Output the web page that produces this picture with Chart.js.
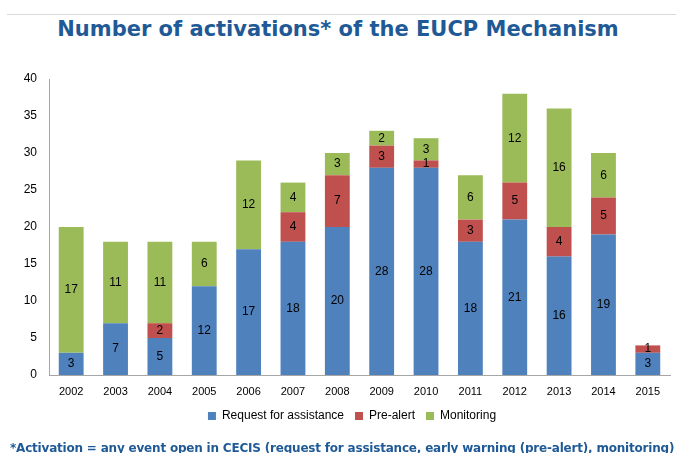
<!DOCTYPE html>
<html>
<head>
<meta charset="utf-8">
<script src="https://cdn.jsdelivr.net/npm/chart.js@4.4.1/dist/chart.umd.min.js"></script>
<style>
  html, body { margin: 0; padding: 0; background: #fff; }
  body { width: 676px; height: 453px; position: relative; overflow: hidden; }
  #rule { position: absolute; left: 7px; right: 0; top: 14px; border-top: 1px solid #d9d9d9; }
  #title {
    position: absolute; left: 0; width: 676px; top: 17px; text-align: center;
    font-family: 'DejaVu Sans', Verdana, sans-serif; font-weight: bold; font-size: 21px;
    color: #1f5a96;
  }
  #note {
    position: absolute; left: 10px; top: 441px; white-space: nowrap;
    font-family: 'DejaVu Sans', Verdana, sans-serif; font-weight: bold; font-size: 12px;
    letter-spacing: -0.2px; color: #1f5a96;
  }
  #wrap { position: absolute; left: 0; top: 0; width: 676px; height: 453px; }
</style>
</head>
<body>
<div id="rule"></div>
<div id="title">Number of activations* of the EUCP Mechanism</div>
<div id="wrap"><canvas id="chart"></canvas></div>
<div id="note">*Activation = any event open in CECIS (request for assistance, early warning (pre-alert), monitoring)</div>
<script>
const years = ['2002', '2003', '2004', '2005', '2006', '2007', '2008', '2009', '2010', '2011', '2012', '2013', '2014', '2015'];
const requestForAssistance = [3, 7, 5, 12, 17, 18, 20, 28, 28, 18, 21, 16, 19, 3];
const preAlert = [0, 0, 2, 0, 0, 4, 7, 3, 1, 3, 5, 4, 5, 1];
const monitoring = [17, 11, 11, 6, 12, 4, 3, 2, 3, 6, 12, 16, 6, 0];

const FONT = { family: "'Liberation Sans', Arial, sans-serif", size: 12 };

// draws the value in the middle of each segment
const segmentLabels = {
  id: 'segmentLabels',
  afterDatasetsDraw(chart) {
    const ctx = chart.ctx;
    ctx.save();
    ctx.font = '12px ' + FONT.family;
    ctx.fillStyle = '#000';
    ctx.textAlign = 'center';
    ctx.textBaseline = 'middle';
    chart.data.datasets.forEach((ds, i) => {
      const meta = chart.getDatasetMeta(i);
      meta.data.forEach((bar, j) => {
        const v = ds.data[j];
        if (!v) return;
        ctx.fillText(String(v), bar.x, (bar.y + bar.base) / 2);
      });
    });
    ctx.restore();
  }
};

// legend in the original sits a bit right of the page centre
const legendShift = {
  id: 'legendShift',
  afterLayout(chart) {
    chart.legend.left += 17;
    chart.legend.right += 17;
  }
};

new Chart(document.getElementById('chart').getContext('2d'), {
  type: 'bar',
  data: {
    labels: years,
    datasets: [
      { label: 'Request for assistance', data: requestForAssistance, backgroundColor: '#4f81bd' },
      { label: 'Pre-alert', data: preAlert, backgroundColor: '#c0504d' },
      { label: 'Monitoring', data: monitoring, backgroundColor: '#9bbb59' },
    ],
  },
  options: {
    responsive: true,
    maintainAspectRatio: false,
    animation: false,
    datasets: { bar: { categoryPercentage: 0.56, barPercentage: 1 } },
    layout: { padding: { top: 79, right: 6, bottom: 21, left: 0 } },
    plugins: {
      legend: {
        position: 'bottom',
        labels: { color: '#000', font: FONT, boxWidth: 8, boxHeight: 8, padding: 11 },
      },
      tooltip: { enabled: false },
    },
    scales: {
      x: {
        stacked: true,
        afterFit(scale) { scale.height = 24; },
        grid: { display: false, drawTicks: false },
        border: { color: '#a6a6a6' },
        ticks: { color: '#000', font: { ...FONT, size: 11 }, padding: 10, maxRotation: 0 },
      },
      y: {
        stacked: true,
        min: 0, max: 40,
        afterFit(scale) { scale.width = 49; },
        grid: { display: false, drawTicks: false },
        border: { color: '#a6a6a6' },
        ticks: { stepSize: 5, color: '#000', font: FONT, padding: 12 },
      },
    },
  },
  plugins: [segmentLabels, legendShift],
});
</script>
</body>
</html>
